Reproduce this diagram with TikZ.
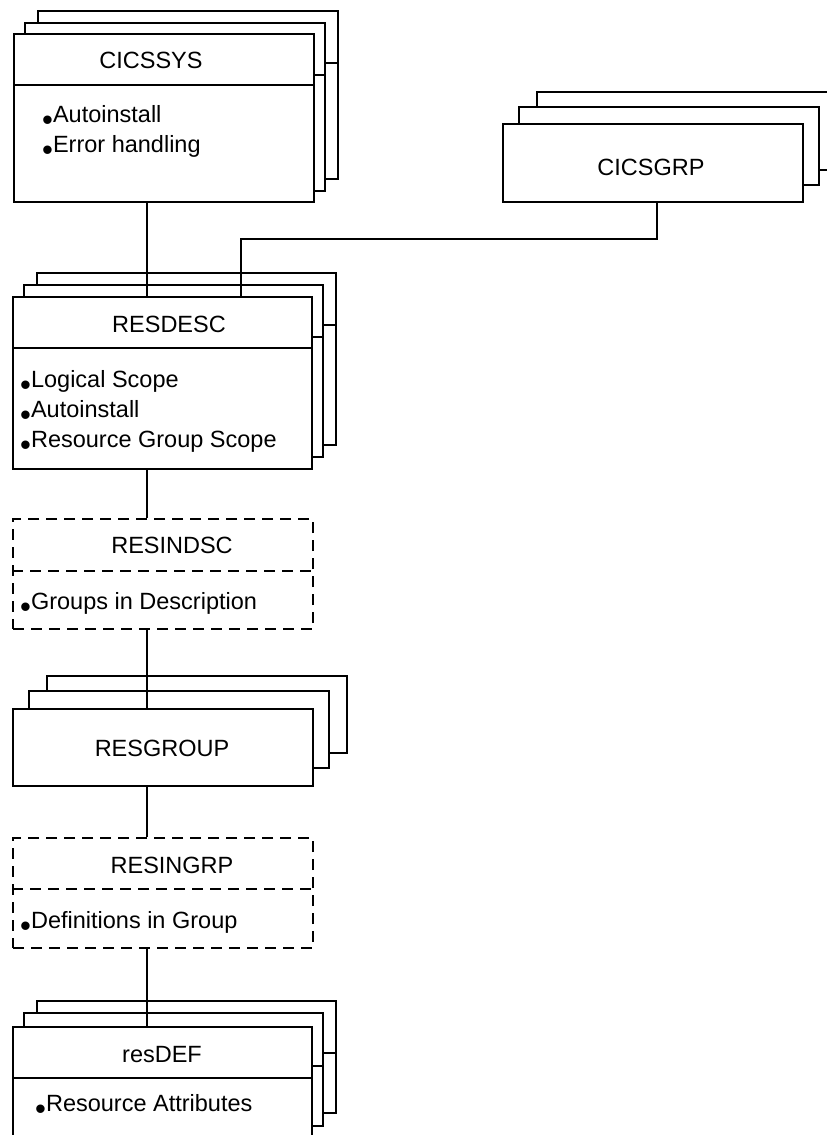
\documentclass[tikz,border=0pt]{standalone}
\usepackage{fontspec}
\setmainfont{Liberation Sans}
\newcommand\bul{\raisebox{-8.2pt}{\fontsize{31}{31}\selectfont •}}
\tikzset{
  link/.style={line width=2pt},
  back/.style={draw, fill=white, line width=2pt},
  card/.style={draw, fill=white, line width=2pt, inner sep=0pt, anchor=north west},
  dbox/.style={draw, fill=white, line width=2pt, dash pattern=on 11pt off 7pt, inner sep=0pt, anchor=north west},
  dline/.style={line width=2pt, dash pattern=on 11pt off 7pt},
  title/.style={anchor=base, inner sep=0pt, font=\fontsize{23.5}{28}\selectfont},
  item/.style={anchor=base west, inner sep=0pt, font=\fontsize{23.5}{28}\selectfont}
}
\newcommand\backcard[5]{%
  \draw[back] (#1,#2) rectangle (#3,#4);
  \draw[link] (#1,#5) -- (#3,#5);}
\newcommand\backplain[4]{%
  \draw[back] (#1,#2) rectangle (#3,#4);}
\begin{document}
\begin{tikzpicture}[x=1pt,y=-1pt]
\useasboundingbox (0,0) rectangle (827,1135);
\clip (0,0) rectangle (827,1135);
\coordinate (spine) at (147,0);
\coordinate (grpx) at (241,0);
\coordinate (elbow) at (657,239);
% CICSSYS
\backcard{38}{11}{338}{179}{63}
\backcard{25}{23}{325}{191}{75}
\node[card, minimum width=300pt, minimum height=168pt] (cicssys) at (13,33) {};
\draw[link] (cicssys.west |- 0,85) -- (cicssys.east |- 0,85);
\node[title] (tcicssys) at (151,68) {CICSSYS};
\node[item] (i1) at (42,122) {\bul Autoinstall};
\node[item] (i2) at (42,152) {\bul Error handling};
% CICSGRP
\backplain{537}{92}{837}{170}
\backplain{519}{107}{819}{185}
\node[card, minimum width=300pt, minimum height=78pt] (cicsgrp) at (502,123) {};
\node[title] (tcicsgrp) at (651,175) {CICSGRP};
% RESDESC
\backcard{37}{273}{336}{445}{325}
\backcard{24}{285}{323}{457}{337}
\node[card, minimum width=299pt, minimum height=172pt] (resdesc) at (12,296) {};
\draw[link] (resdesc.west |- 0,348) -- (resdesc.east |- 0,348);
\node[title] (tresdesc) at (169,332) {RESDESC};
\node[item] (i3) at (20,387) {\bul Logical Scope};
\node[item] (i4) at (20,417) {\bul Autoinstall};
\node[item] (i5) at (20,447) {\bul Resource Group Scope};
% RESINDSC
\node[dbox, minimum width=300pt, minimum height=110pt] (resindsc) at (12,518) {};
\draw[dline] (resindsc.west |- 0,571) -- (resindsc.east |- 0,571);
\node[title] (tresindsc) at (172,553) {RESINDSC};
\node[item] (i6) at (20,609) {\bul Groups in Description};
% RESGROUP
\backplain{47}{676}{347}{753}
\backplain{29}{691}{329}{768}
\node[card, minimum width=300pt, minimum height=77pt] (resgroup) at (12,708) {};
\node[title] (tresgroup) at (162,756) {RESGROUP};
% RESINGRP
\node[dbox, minimum width=300pt, minimum height=110pt] (resingrp) at (12,837) {};
\draw[dline] (resingrp.west |- 0,889) -- (resingrp.east |- 0,889);
\node[title] (tresingrp) at (172,873) {RESINGRP};
\node[item] (i7) at (20,928) {\bul Definitions in Group};
% resDEF
\backcard{37}{1001}{336}{1113}{1053}
\backcard{24}{1013}{323}{1126}{1066}
\node[card, minimum width=299pt, minimum height=113pt] (resdef) at (12,1026) {};
\draw[link] (resdef.west |- 0,1078) -- (resdef.east |- 0,1078);
\node[title] (tresdef) at (162,1062) {resDEF};
\node[item] (i8) at (35,1111) {\bul Resource Attributes};
% connectors
\draw[link] (cicssys.south -| spine) -- (resdesc.north -| spine);
\draw[link] (cicsgrp.south -| elbow) -- (elbow) -- (elbow -| grpx) -- (resdesc.north -| grpx);
\draw[link] (resdesc.south -| spine) -- (resindsc.north -| spine);
\draw[link] (resindsc.south -| spine) -- (resgroup.north -| spine);
\draw[link] (resgroup.south -| spine) -- (resingrp.north -| spine);
\draw[link] (resingrp.south -| spine) -- (resdef.north -| spine);
\end{tikzpicture}
\end{document}
